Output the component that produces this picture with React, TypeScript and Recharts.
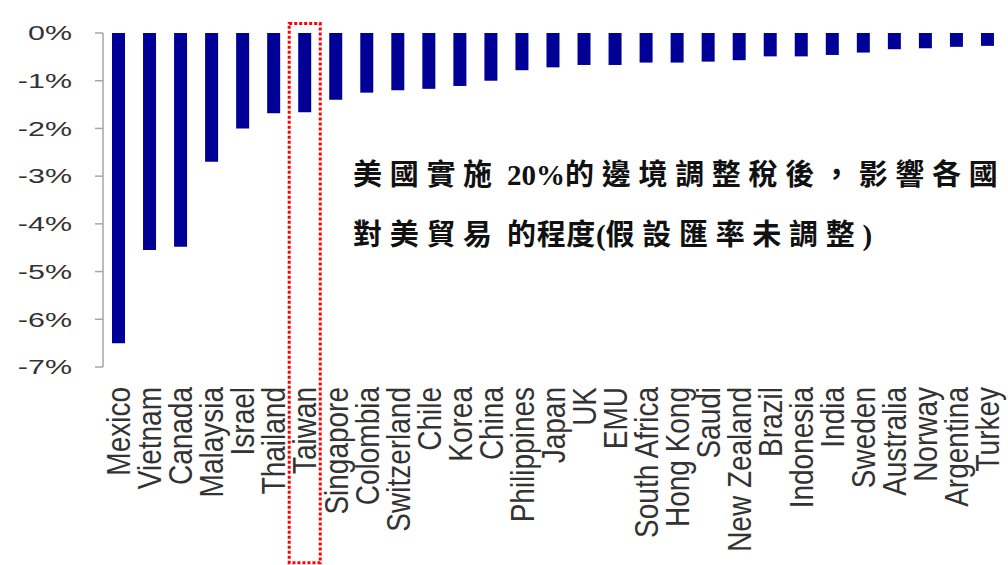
import { BarChart, Bar, XAxis, YAxis, ReferenceArea } from "recharts";

const countries = [
  "Mexico", "Vietnam", "Canada", "Malaysia", "Israel", "Thailand", "Taiwan",
  "Singapore", "Colombia", "Switzerland", "Chile", "Korea", "China", "Philippines",
  "Japan", "UK", "EMU", "South Africa", "Hong Kong", "Saudi", "New Zealand",
  "Brazil", "Indonesia", "India", "Sweden", "Australia", "Norway", "Argentina", "Turkey",
];

// % change in trade with the US
const impact = [
  -6.5, -4.55, -4.48, -2.7, -2.0, -1.68, -1.66,
  -1.4, -1.25, -1.2, -1.17, -1.11, -1.0, -0.78,
  -0.72, -0.67, -0.67, -0.62, -0.62, -0.6, -0.57,
  -0.49, -0.49, -0.46, -0.41, -0.34, -0.32, -0.29, -0.27,
];

const yTicks = [0, -1, -2, -3, -4, -5, -6, -7];
const highlighted = "Taiwan";

// annotation, split where the spacing changes
const noteLine1 = ["美國實施", " ", "20%", "的邊境調整稅後，影響各國"];
const noteLine2 = ["對美貿易", " ", "的程度", "(", "假設匯率未調整", ")"];

const data = countries.map((name, i) => ({ name, value: impact[i] }));
// boundaries between categories, for the little tick marks under the 0% line
const boundaryTicks = countries.map((_, i) => i + 1);

const AXIS_GREY = "#a6a6a6";
const LABEL = "#333333";
const WIDE = 7.7;

const PercentTick = ({ y, payload }: any) => {
  const x = 72;
  return (
    <text
      x={x}
      y={y}
      dy="0.35em"
      textAnchor="end"
      fill={LABEL}
      fontSize={21}
      fontFamily="'Liberation Sans', Arial, sans-serif"
      transform={`translate(${x},${y}) scale(1.45,1) translate(${-x},${-y})`}
    >
      {`${payload.value}%`}
    </text>
  );
};

const CountryTick = ({ x, y, payload }: any) => (
  <text
    x={0}
    y={0}
    dy="0.35em"
    textAnchor="end"
    fill={LABEL}
    fontSize={28}
    fontFamily="'Liberation Sans', Arial, sans-serif"
    transform={`translate(${x},${y}) rotate(-90) scale(1,1.2)`}
  >
    {payload.value}
  </text>
);

const noteStyle = {
  fontSize: 29,
  fontWeight: 700,
  fill: "#111",
  fontFamily: "'Liberation Serif', 'Noto Sans CJK TC', serif",
};

export default function App() {
  return (
    <div style={{ position: "absolute", left: 0, top: 0, width: 1008, height: 565, background: "#fff" }}>
      <BarChart
        width={1008}
        height={565}
        data={data}
        margin={{ top: 33, right: 5, bottom: 0, left: 0 }}
      >
        <XAxis
          xAxisId="cat"
          dataKey="name"
          type="category"
          interval={0}
          height={198}
          axisLine={false}
          tickLine={false}
          tickSize={0}
          tickMargin={20}
          tick={<CountryTick />}
        />
        <XAxis
          xAxisId="grid"
          type="number"
          orientation="top"
          mirror
          height={0}
          domain={[0, countries.length]}
          ticks={boundaryTicks}
          allowDataOverflow
          tick={false}
          tickSize={9}
          axisLine={{ stroke: AXIS_GREY, strokeWidth: 1.5 }}
          tickLine={{ stroke: AXIS_GREY, strokeWidth: 1.5 }}
        />
        <YAxis
          type="number"
          width={103}
          domain={[-7, 0]}
          ticks={yTicks}
          interval={0}
          tickSize={8}
          axisLine={{ stroke: AXIS_GREY, strokeWidth: 1.5 }}
          tickLine={{ stroke: AXIS_GREY, strokeWidth: 1.5 }}
          tick={<PercentTick />}
        />
        <Bar
          xAxisId="cat"
          dataKey="value"
          fill="#000096"
          barSize={13}
          isAnimationActive={false}
        />
        <ReferenceArea
          xAxisId="cat"
          x1={highlighted}
          x2={highlighted}
          y1={0.2}
          y2={-11.1}
          ifOverflow="visible"
          fill="none"
          fillOpacity={0}
          stroke="#ff0000"
          strokeWidth={3}
          strokeDasharray="3 2"
        />
      </BarChart>
      <svg
        width={1008}
        height={565}
        style={{ position: "absolute", left: 0, top: 0, pointerEvents: "none" }}
      >
        <text x={353} y={185} style={noteStyle}>
          <tspan style={{ letterSpacing: WIDE }}>{noteLine1[0]}</tspan>
          <tspan>{noteLine1[1]}</tspan>
          <tspan style={{ letterSpacing: 0 }}>{noteLine1[2]}</tspan>
          <tspan style={{ letterSpacing: WIDE }}>{noteLine1[3]}</tspan>
        </text>
        <text x={353} y={245} style={noteStyle}>
          <tspan style={{ letterSpacing: WIDE }}>{noteLine2[0]}</tspan>
          <tspan>{noteLine2[1]}</tspan>
          <tspan style={{ letterSpacing: 0.6 }}>{noteLine2[2]}</tspan>
          <tspan style={{ letterSpacing: 0 }}>{noteLine2[3]}</tspan>
          <tspan style={{ letterSpacing: WIDE }}>{noteLine2[4]}</tspan>
          <tspan style={{ letterSpacing: 0 }}>{noteLine2[5]}</tspan>
        </text>
      </svg>
    </div>
  );
}
